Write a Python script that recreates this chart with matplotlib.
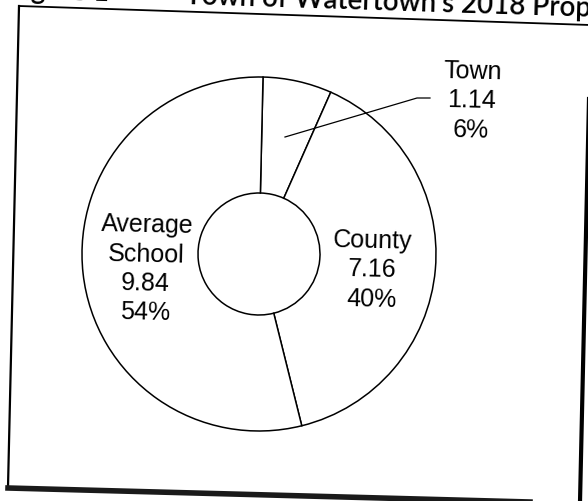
import matplotlib.pyplot as plt

# property tax rate components (per $1,000)
labels = ["Town", "County", "Average\nSchool"]
rates = [1.14, 7.16, 9.84]
shares = ["6%", "40%", "54%"]

W, H = 588, 502
TILT = -1.8  # the page sits slightly askew

fig = plt.figure(figsize=(W / 100, H / 100), dpi=100)
ax = fig.add_axes([0, 0, 1, 1])

ax.pie(rates, startangle=88.7, counterclock=False,
       center=(259, H - 255), radius=177, colors=["white"] * 3,
       wedgeprops=dict(width=116, edgecolor="black", linewidth=1.1))
ax.set_xlim(0, W)
ax.set_ylim(0, H)
ax.set_aspect("equal")
ax.axis("off")

lab_font = dict(family="Liberation Sans", fontsize=18, ha="center", va="center",
                linespacing=1.28, rotation=TILT * 0.7)

# slice labels
ax.text(472, H - 101, f"{labels[0]}\n{rates[0]:.2f}\n{shares[0]}", **lab_font)
ax.text(372, H - 270, f"{labels[1]}\n{rates[1]:.2f}\n{shares[1]}", **lab_font)
ax.text(146, H - 269, f"{labels[2]}\n{rates[2]:.2f}\n{shares[2]}", **lab_font)

# leader line to the small Town slice
ax.plot([285, 417, 430], [H - 138, H - 99, H - 99], color="black", lw=0.9)

# box around the figure
ax.plot([19, 590], [H - 7, H - 26], color="black", lw=1.3)
ax.plot([19, 8], [H - 7, H - 488], color="black", lw=1.6)
ax.plot([8, 530], [H - 489, H - 503], color="#1a1a1a", lw=4)
ax.plot([589, 580], [H - 100, H - 503], color="black", lw=3)

# caption above the box, mostly cut off at the page edge
ax.text(8, H + 2, "Figure 1 -", family="Lato", fontsize=20, fontweight="semibold",
        ha="left", va="baseline", rotation=TILT, rotation_mode="anchor")
ax.text(185, H - 4, "Town of Watertown's 2018 Property Tax Rate",
        family="Lato", fontsize=20, fontweight="semibold", ha="left", va="baseline",
        rotation=TILT, rotation_mode="anchor")

fig.savefig("out.png", dpi=100, facecolor="white")
